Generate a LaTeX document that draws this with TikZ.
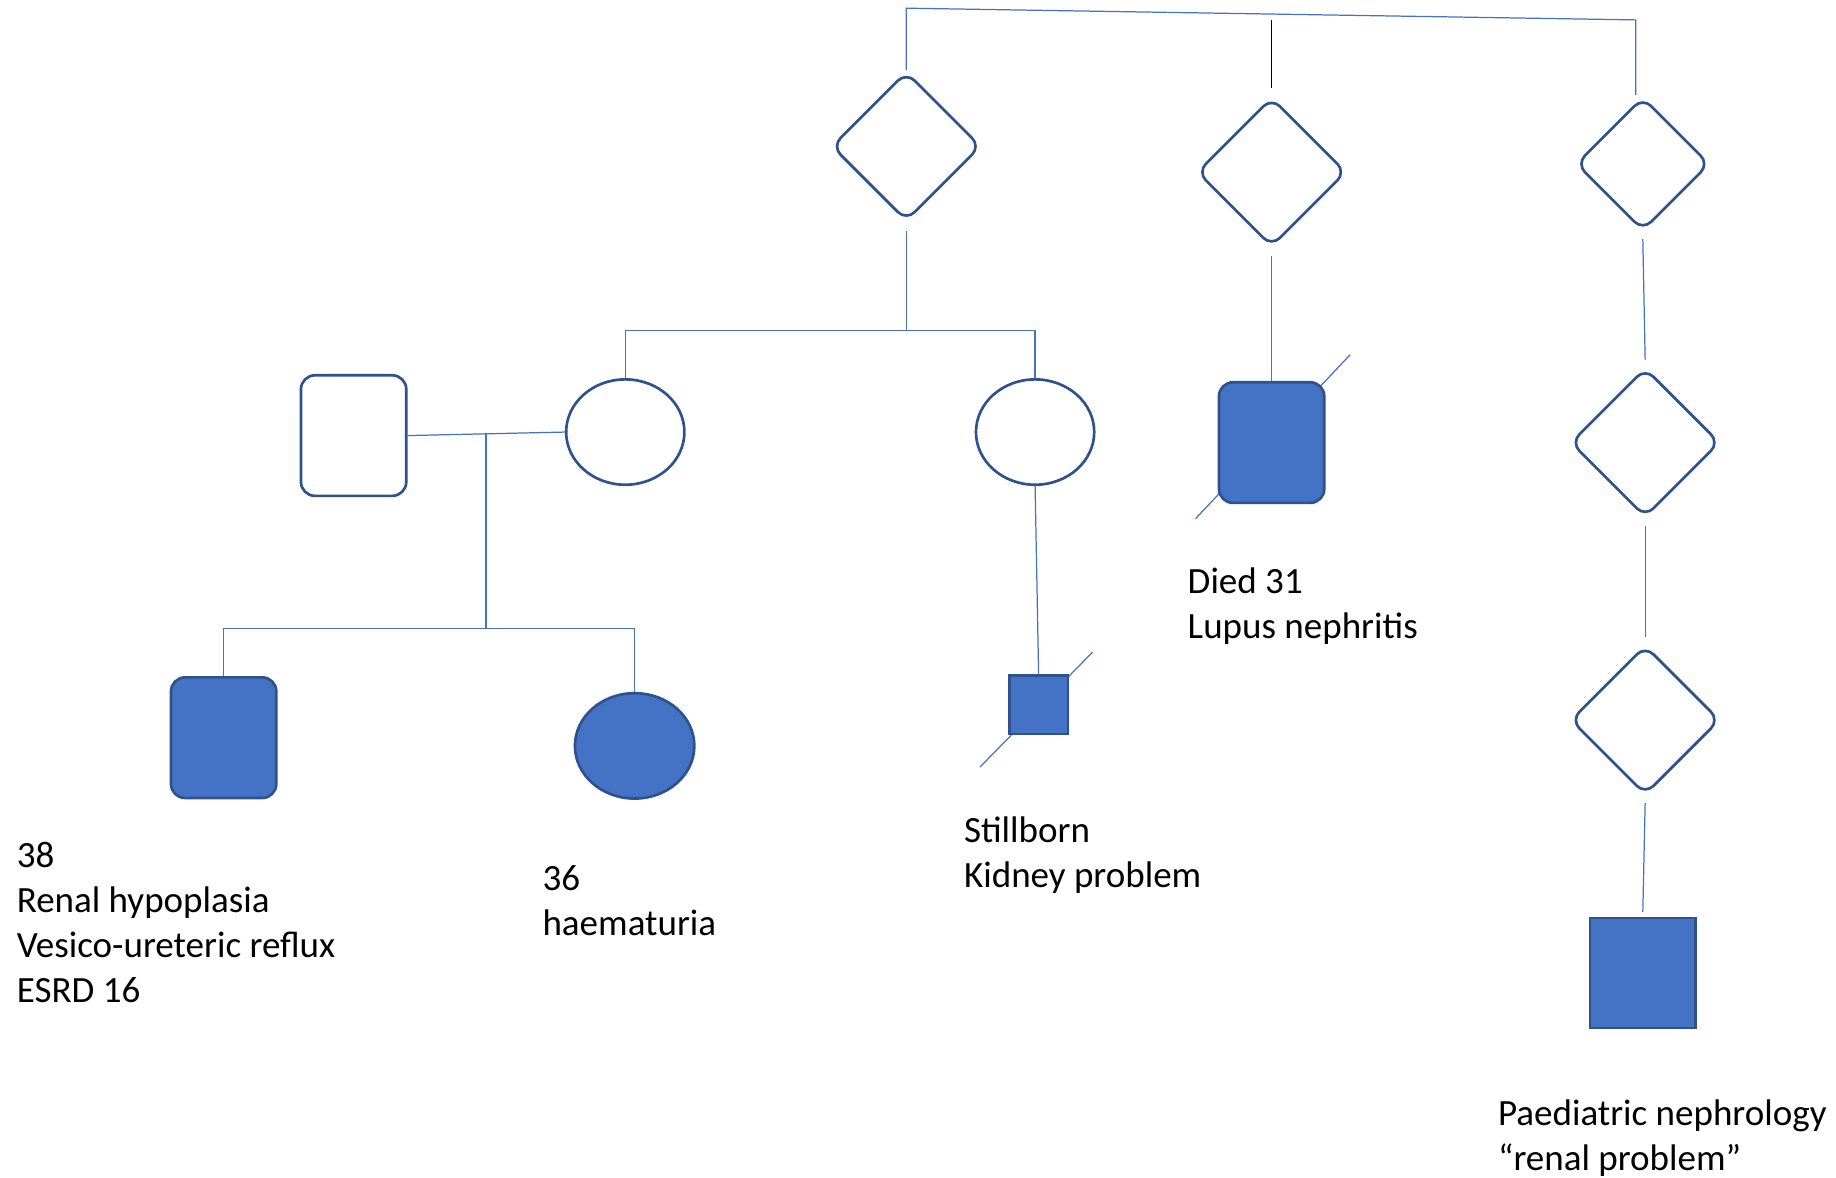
\documentclass[tikz,border=0pt]{standalone}
\usepackage{fontspec}
\setmainfont{Carlito}
\usetikzlibrary{shapes.geometric}
\definecolor{fillblue}{RGB}{68,114,196}
\definecolor{edgeblue}{RGB}{47,82,143}
\tikzset{
  person/.style={draw=edgeblue, line width=1.3pt, inner sep=0pt},
  male/.style={person, rectangle, rounded corners=0.24cm, minimum width=1.8cm, minimum height=2.06cm},
  sharpmale/.style={person, rectangle, minimum width=1.8cm, minimum height=1.88cm},
  female/.style={person, ellipse, minimum width=2.02cm, minimum height=1.8cm},
  unknown/.style={person, diamond, rounded corners=0.2cm, minimum width=2.55cm, minimum height=2.55cm},
  affected/.style={fill=fillblue},
  link/.style={draw=fillblue, line width=0.6pt},
  note/.style={anchor=base west, align=left, inner sep=0pt, font=\fontsize{18}{21.9}\selectfont}
}

\begin{document}
\begin{tikzpicture}[x=0.02cm, y=-0.02cm]
    \useasboundingbox (0,0) rectangle (1568,1006);
    % deceased slashes
    \draw[link] (837,655) -- (933,557);
    \draw[link] (1021,443) -- (1153,303);
    % people
    \node[unknown] (d1) at (774,125) {};
    \node[unknown] (d2) at (1086,147) {};
    \node[unknown, minimum width=2.28cm, minimum height=2.28cm] (d3) at (1403,140) {};
    \node[unknown] (d4) at (1405,378) {};
    \node[unknown] (d5) at (1405,615) {};
    \node[male] (m1) at (302,372) {};
    \node[female] (f1) at (534,369) {};
    \node[female] (f2) at (884,369) {};
    \node[male, affected] (p1) at (191,630) {};
    \node[female, affected, minimum width=2.04cm] (p2) at (542,637) {};
    \node[sharpmale, affected, minimum width=1cm, minimum height=1cm] (sb) at (887,602) {};
    \node[male, affected] (dc) at (1086,378) {};
    \node[sharpmale, affected] (pn) at (1403,831) {};
    % branch points
    \coordinate (t1) at (774,7);
    \coordinate (t3) at (1397,17);
    \coordinate (t3b) at (1397,81);
    \coordinate (s1) at (774,282);
    \coordinate (mm) at (415,371);
    \coordinate (s2) at (415,537);
    % lines
    \draw[link] (d1.north) -- (t1) -- (t3) -- (t3b);
    \draw[black, line width=0.6pt] (d2.north |- t3) -- ([yshift=0.14cm]d2.north);
    \draw[link] ([yshift=-0.14cm]d1.south) -- (s1);
    \draw[link] (f1.north) |- (s1) -| (f2.north);
    \draw[link] (m1.east) -- (f1.west);
    \draw[link] (mm) -- (s2);
    \draw[link] (p1.north) |- (s2) -| (p2.north);
    \draw[link] (f2.south) -- (sb.north);
    \draw[link] ([yshift=-0.14cm]d2.south) -- (dc.north);
    \draw[link] ([yshift=-0.12cm]d3.south) -- ([yshift=0.12cm]d4.north);
    \draw[link] ([yshift=-0.12cm]d4.south) -- ([yshift=0.12cm]d5.north);
    \draw[link] ([yshift=-0.12cm]d5.south) -- ([yshift=0.08cm]pn.north);
    % labels (placed at the baseline of the last line)
    \node[note] (t38) at (14,856) {38\\Renal hypoplasia\\Vesico-ureteric reflux\\ESRD 16};
    \node[note] (t36) at (463,799) {36\\haematuria};
    \node[note] (tsb) at (823,758) {Stillborn\\Kidney problem};
    \node[note] (tdc) at (1014,545) {Died 31\\Lupus nephritis};
    \node[note] (tpn) at (1279,1000) {Paediatric nephrology\\“renal problem”};
\end{tikzpicture}
\end{document}
